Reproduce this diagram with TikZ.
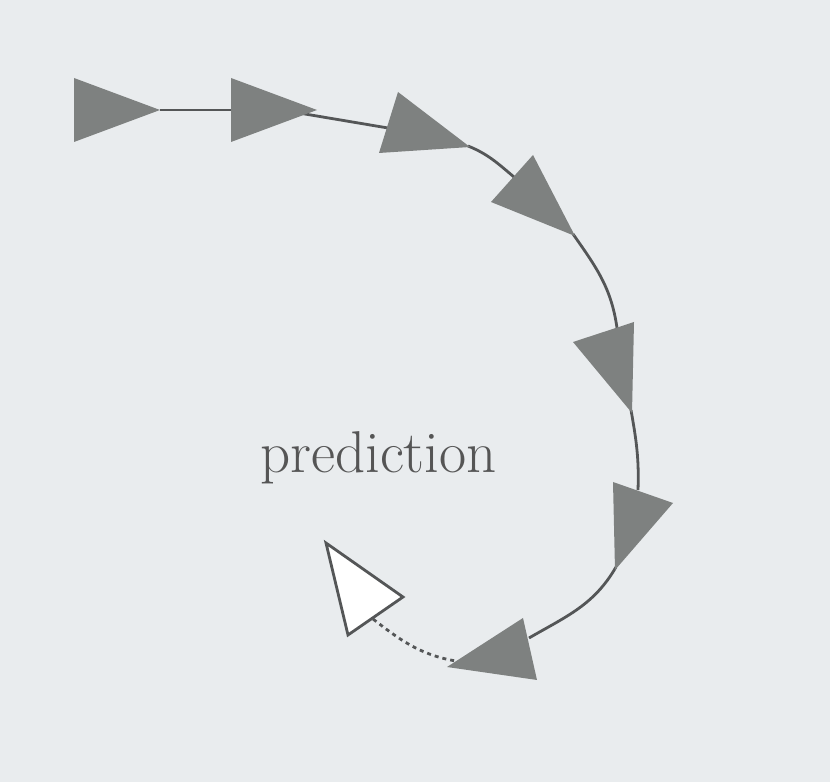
\documentclass[tikz,border=0pt]{standalone}
\begin{document}
\begin{tikzpicture}[x=1pt,y=1pt,
  link/.style={line width=2.8pt, draw=lineC},
  dotlink/.style={line width=2.8pt, draw=lineC, dash pattern=on 4pt off 4pt},
  tri/.style={fill=triC},
  wtri/.style={fill=white, draw=lineC, line width=2.8pt, line join=miter}]
\definecolor{bgC}{HTML}{E9ECEE}
\definecolor{triC}{HTML}{7E8180}
\definecolor{lineC}{HTML}{545657}
\definecolor{txtC}{HTML}{555555}
\fill[bgC] (0,0) rectangle (830,782);
\useasboundingbox (0,0) rectangle (830,782);
% triangle corners (a, b = base ends, t = tip)
\coordinate (a1) at (74,704);  \coordinate (b1) at (74,640);  \coordinate (t1) at (160,672);
\coordinate (a2) at (231,704); \coordinate (b2) at (231,640); \coordinate (t2) at (317,672);
\coordinate (a3) at (398,690); \coordinate (b3) at (379,629); \coordinate (t3) at (470,635);
\coordinate (a4) at (533,627); \coordinate (b4) at (491,580); \coordinate (t4) at (575,546);
\coordinate (a5) at (634,460); \coordinate (b5) at (573,440); \coordinate (t5) at (632,369);
\coordinate (a6) at (613,300); \coordinate (b6) at (673,279); \coordinate (t6) at (615,212);
\coordinate (a7) at (523,164); \coordinate (b7) at (537,102); \coordinate (t7) at (447,115);
\coordinate (aw) at (403,185); \coordinate (bw) at (348,147); \coordinate (tw) at (326,239);
% connector end points
\coordinate (s1) at (160,672); \coordinate (e1) at (232,672);
\coordinate (s2) at (296,669.5); \coordinate (e2) at (388,654);
\coordinate (s3) at (468,636); \coordinate (e3) at (514,605);
\coordinate (s4) at (573,548); \coordinate (e4) at (617,454);
\coordinate (s5) at (631,372); \coordinate (e5) at (638,292);
\coordinate (s6) at (616,215); \coordinate (e6) at (529,144);
\coordinate (s7) at (462,120); \coordinate (e7) at (373,163);
% connectors
\draw[link] (s1) -- (e1);
\draw[link] (s2) -- (e2);
\draw[link] (s3) to[out=-22,in=140] (e3);
\draw[link] (s4) to[out=-55,in=98] (e4);
\draw[link] (s5) to[out=-80,in=88] (e5);
\draw[link] (s6) to[out=-120,in=30] (e6);
\draw[dotlink] (s7) to[out=172,in=-38] (e7);
% triangles
\fill[tri] (a1) -- (b1) -- (t1) -- cycle;
\fill[tri] (a2) -- (b2) -- (t2) -- cycle;
\fill[tri] (a3) -- (b3) -- (t3) -- cycle;
\fill[tri] (a4) -- (b4) -- (t4) -- cycle;
\fill[tri] (a5) -- (b5) -- (t5) -- cycle;
\fill[tri] (a6) -- (b6) -- (t6) -- cycle;
\fill[tri] (a7) -- (b7) -- (t7) -- cycle;
\draw[wtri] (aw) -- (bw) -- (tw) -- cycle;
% label
\node[anchor=base, text=txtC, font=\fontsize{59}{66}\selectfont, inner sep=0pt] (lbl) at (378.5,309) {prediction};
\end{tikzpicture}
\end{document}
